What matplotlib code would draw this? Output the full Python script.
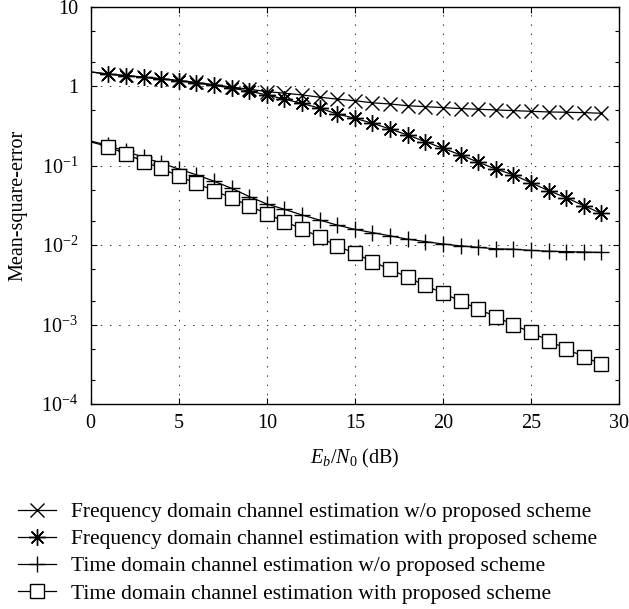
import numpy as np
import matplotlib
matplotlib.use('Agg')
import matplotlib.pyplot as plt
from matplotlib.ticker import FixedLocator, LogLocator, NullFormatter

# Eb/N0 axis (dB)
ebn0 = list(range(0, 30))

# Frequency domain channel estimation w/o proposed scheme
freq_wo = [1.52, 1.43, 1.37, 1.31, 1.25, 1.19, 1.12, 1.05, 0.98, 0.92,
           0.86, 0.82, 0.78, 0.73, 0.69, 0.66, 0.62, 0.60, 0.57, 0.555,
           0.54, 0.525, 0.515, 0.505, 0.495, 0.485, 0.476, 0.472, 0.467, 0.458]
# Frequency domain channel estimation with proposed scheme
freq_with = [1.52, 1.42, 1.36, 1.30, 1.24, 1.17, 1.10, 1.03, 0.95, 0.87,
             0.78, 0.69, 0.61, 0.53, 0.449, 0.396, 0.343, 0.29, 0.244, 0.201,
             0.166, 0.137, 0.111, 0.091, 0.077, 0.061, 0.0486, 0.0396, 0.0314, 0.0251]
# Time domain channel estimation w/o proposed scheme
time_wo = [0.205, 0.18, 0.152, 0.128, 0.108, 0.091, 0.077, 0.064, 0.052, 0.041,
           0.033, 0.0283, 0.024, 0.0207, 0.0179, 0.0158, 0.0144, 0.0131, 0.0119, 0.0111,
           0.01035, 0.0098, 0.0094, 0.0090, 0.0089, 0.0086, 0.0084, 0.0083, 0.0082, 0.0081]
# Time domain channel estimation with proposed scheme
time_with = [0.2, 0.174, 0.141, 0.113, 0.093, 0.074, 0.060, 0.0487, 0.0394, 0.0312,
             0.0249, 0.0198, 0.0161, 0.0126, 0.00977, 0.0079, 0.0062, 0.00497, 0.00394, 0.00312,
             0.00248, 0.00198, 0.00157, 0.00126, 0.00099, 0.0008, 0.00063, 0.000493, 0.000395, 0.000316]

labels = ['Frequency domain channel estimation w/o proposed scheme',
          'Frequency domain channel estimation with proposed scheme',
          'Time domain channel estimation w/o proposed scheme',
          'Time domain channel estimation with proposed scheme']

ytick_vals = [1e-4, 1e-3, 1e-2, 1e-1, 1, 10]
ytick_labels = ['$10^{-4}$', '$10^{-3}$', '$10^{-2}$', '$10^{-1}$', '1', '10']
xtick_vals = [0, 5, 10, 15, 20, 25, 30]

plt.rcParams['font.family'] = ['Liberation Serif', 'DejaVu Serif']
plt.rcParams['mathtext.fontset'] = 'custom'
plt.rcParams['mathtext.rm'] = 'Liberation Serif'
plt.rcParams['mathtext.it'] = 'Liberation Serif:italic'
plt.rcParams['font.size'] = 14.5

fig = plt.figure(figsize=(6.29, 6.09), dpi=100)
ax = fig.add_axes([0.1442, 0.3366, 0.840, 0.652])

common = dict(color='black', lw=0.9, markevery=(1, 1), mew=1.0)
ax.plot(ebn0, freq_wo, marker='x', ms=10, label=labels[0], **common)
ax.plot(ebn0, freq_with, marker=(8, 2, 0), ms=12, label=labels[1], **common)
ax.plot(ebn0, time_wo, marker='+', ms=12, label=labels[2], **common)
ax.plot(ebn0, time_with, marker='s', ms=10, mfc='white', mec='black', label=labels[3], **common)

ax.set_yscale('log')
ax.set_xlim(0, 30)
ax.set_ylim(1e-4, 10)
ax.yaxis.set_major_locator(FixedLocator(ytick_vals))
ax.set_yticklabels(ytick_labels)
ax.yaxis.set_minor_locator(LogLocator(base=10, subs=[2, 5]))
ax.yaxis.set_minor_formatter(NullFormatter())
ax.set_xticks(xtick_vals)

ax.tick_params(which='both', direction='in', top=True, right=True, width=0.8)
ax.tick_params(which='major', length=4)
ax.tick_params(which='minor', length=3)
ax.tick_params(axis='y', which='major', pad=9)
ax.tick_params(axis='x', which='major', pad=7)
for s in ax.spines.values():
    s.set_linewidth(1.0)

ax.grid(True, which='major', color='#333333', linestyle=(0, (1.5, 8)), lw=0.7)

ax.set_xlabel('$E_b/N_0$ (dB)', labelpad=10)
ax.set_ylabel('Mean-square-error', labelpad=10)

fig.legend(loc='upper left', bbox_to_anchor=(18 / 629, 1 - 502 / 609),
           bbox_transform=fig.transFigure, frameon=False, borderpad=0,
           borderaxespad=0, handlelength=1.75, handletextpad=0.7,
           labelspacing=0.33, fontsize=15.5)

fig.savefig('out.png', dpi=100)
